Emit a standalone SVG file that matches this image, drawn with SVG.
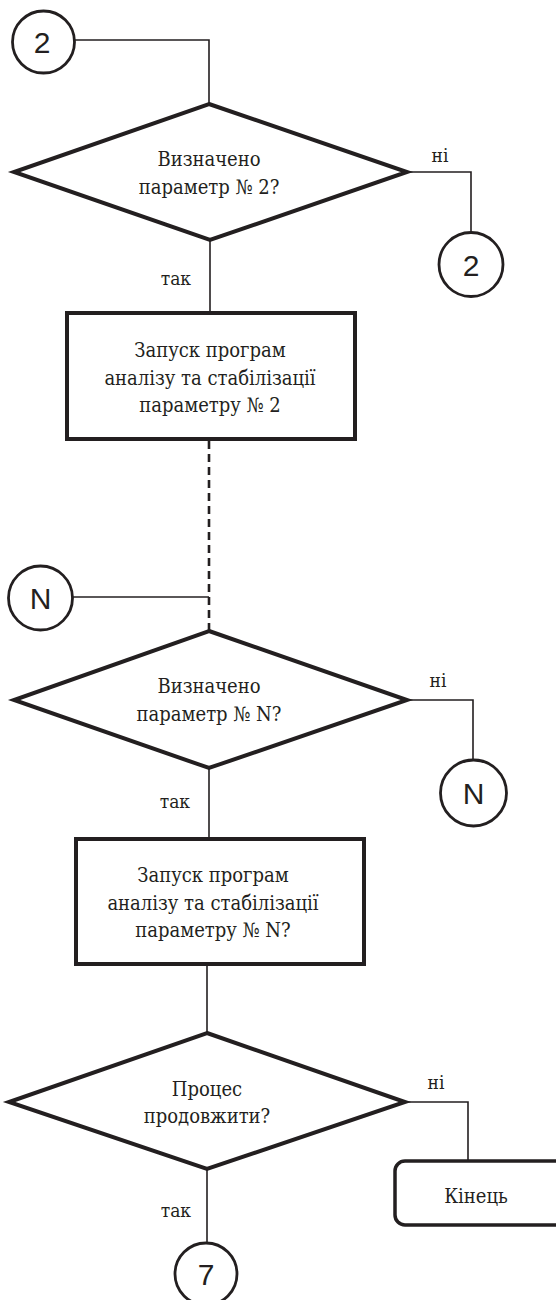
<svg xmlns="http://www.w3.org/2000/svg" width="556" height="1300" viewBox="0 0 556 1300">
<style>
.bg{fill:#fff}
.dia{fill:#fff;stroke:#231f20;stroke-width:4;stroke-linejoin:miter}
.box{fill:#fff;stroke:#231f20;stroke-width:4}
.term{fill:#fff;stroke:#231f20;stroke-width:3.5}
.con{fill:#fff;stroke:#231f20;stroke-width:2.8}
.ln{fill:none;stroke:#231f20;stroke-width:1.6}
.dash{fill:none;stroke:#231f20;stroke-width:2.6;stroke-dasharray:8 5}
.t{font-family:"DejaVu Serif Condensed","DejaVu Serif",serif;font-stretch:condensed;font-size:20px;fill:#231f20;text-anchor:middle}
.lb{font-family:"DejaVu Serif Condensed","DejaVu Serif",serif;font-stretch:condensed;font-size:19px;fill:#231f20}
.c{font-family:"Liberation Sans","DejaVu Sans",sans-serif;font-size:30px;fill:#231f20;text-anchor:middle}
</style>
<rect class="bg" x="0" y="0" width="556" height="1300"/>
<g id="connectors">
<polyline class="ln" points="75,40 209,40 209,104"/>
<polyline class="ln" points="407,172 471,172 471,232"/>
<line class="ln" x1="210" y1="240" x2="210" y2="313"/>
<line class="dash" x1="209" y1="441" x2="209" y2="631"/>
<line class="ln" x1="73" y1="597" x2="209" y2="597"/>
<polyline class="ln" points="407,700 473,700 473,760"/>
<line class="ln" x1="209" y1="768" x2="209" y2="839"/>
<line class="ln" x1="207" y1="964" x2="207" y2="1033"/>
<polyline class="ln" points="405,1102 468,1102 468,1161"/>
<line class="ln" x1="207" y1="1169" x2="207" y2="1243"/>
<text class="lb" x="440" y="162" text-anchor="middle">ні</text>
<text class="lb" x="191" y="285" text-anchor="end">так</text>
<text class="lb" x="438" y="687" text-anchor="middle">ні</text>
<text class="lb" x="190" y="808" text-anchor="end">так</text>
<text class="lb" x="436" y="1089" text-anchor="middle">ні</text>
<text class="lb" x="191" y="1217" text-anchor="end">так</text>
</g>
<g id="conn2top">
<circle class="con" cx="43.5" cy="42" r="31"/>
<text class="c" x="42" y="53">2</text>
</g>
<g id="decision1">
<polygon class="dia" points="209,104 407,172 210,240 14,172"/>
<text class="t" x="209" y="166">Визначено</text>
<text class="t" x="209" y="194">параметр № 2?</text>
</g>
<g id="conn2right">
<circle class="con" cx="471" cy="264.5" r="32"/>
<text class="c" x="471" y="276">2</text>
</g>
<g id="process1">
<rect class="box" x="67" y="313" width="288" height="126"/>
<text class="t" x="210" y="357">Запуск програм</text>
<text class="t" x="210" y="385">аналізу та стабілізації</text>
<text class="t" x="210" y="412">параметру № 2</text>
</g>
<g id="connNleft">
<circle class="con" cx="40.5" cy="598" r="32"/>
<text class="c" x="40.5" y="609">N</text>
</g>
<g id="decision2">
<polygon class="dia" points="209,631 407,700 209,768 14,700"/>
<text class="t" x="209" y="693">Визначено</text>
<text class="t" x="209" y="721">параметр № N?</text>
</g>
<g id="connNright">
<circle class="con" cx="473.5" cy="793" r="33"/>
<text class="c" x="473.5" y="804">N</text>
</g>
<g id="process2">
<rect class="box" x="76" y="839" width="288" height="125"/>
<text class="t" x="213" y="882">Запуск програм</text>
<text class="t" x="213" y="910">аналізу та стабілізації</text>
<text class="t" x="213" y="937">параметру № N?</text>
</g>
<g id="decision3">
<polygon class="dia" points="207,1033 405,1102 207,1169 9,1102"/>
<text class="t" x="207" y="1096">Процес</text>
<text class="t" x="207" y="1123">продовжити?</text>
</g>
<g id="end">
<rect class="term" x="395" y="1161" width="175" height="64" rx="10" ry="10"/>
<text class="t" x="476" y="1203">Кінець</text>
</g>
<g id="conn7">
<circle class="con" cx="206" cy="1274" r="31"/>
<text class="c" x="206" y="1285">7</text>
</g>
</svg>
